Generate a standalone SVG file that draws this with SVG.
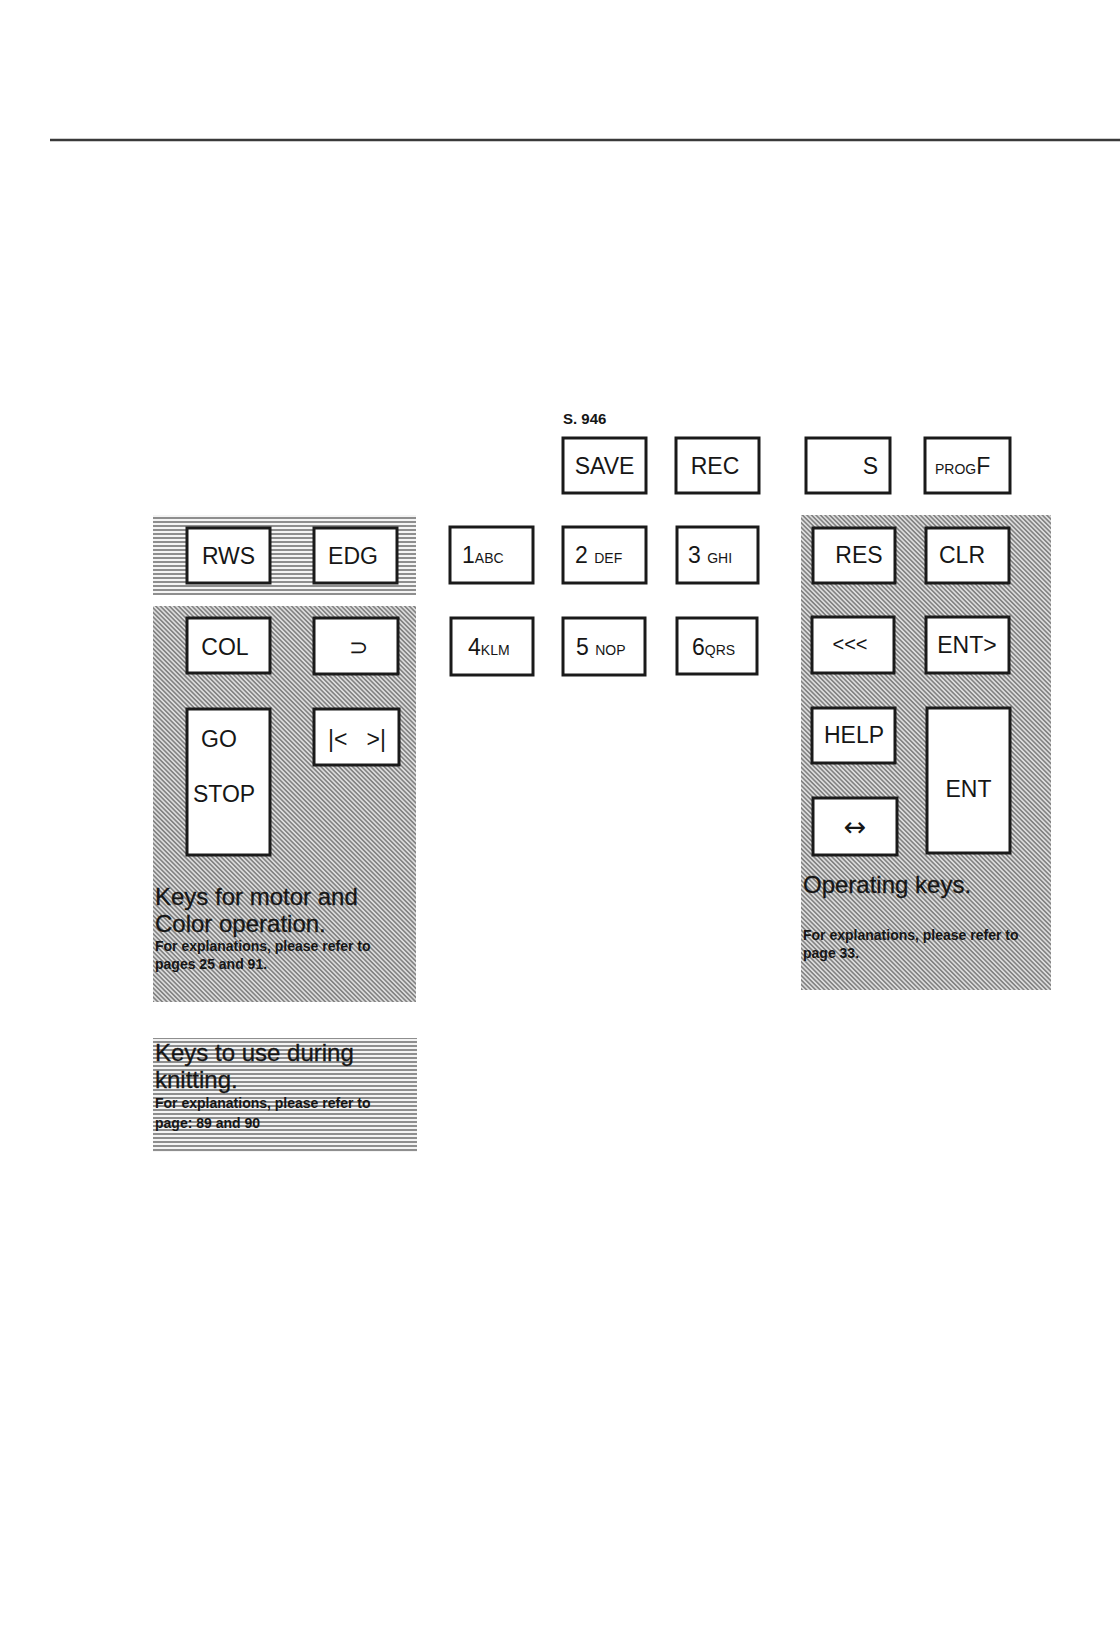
<svg xmlns="http://www.w3.org/2000/svg" width="1120" height="1651" viewBox="0 0 1120 1651">
<defs>
<pattern id="hatchH" patternUnits="userSpaceOnUse" width="8" height="4">
<rect width="8" height="4" fill="#f4f4f4"/>
<line x1="0" y1="2" x2="8" y2="2" stroke="#3a3a3a" stroke-width="1.1"/>
</pattern>
<pattern id="hatchD" patternUnits="userSpaceOnUse" width="8" height="3.2" patternTransform="rotate(45)">
<rect width="8" height="3.2" fill="#dcdcdc"/>
<line x1="0" y1="1.6" x2="8" y2="1.6" stroke="#5a5a5a" stroke-width="1.1"/>
</pattern>
</defs>
<style>
.key{fill:#fff;stroke:#1a1a1a;stroke-width:3}
.lbl{font-family:"Liberation Sans",Arial,sans-serif;font-size:23px;fill:#161616}
.sm{font-size:14px}
.cap{font-family:"Liberation Sans",Arial,sans-serif;font-size:24px;fill:#151515;stroke:#151515;stroke-width:0.3}
.note{font-family:"Liberation Sans",Arial,sans-serif;font-size:14px;font-weight:bold;fill:#151515}
</style>
<rect width="1120" height="1651" fill="#fff"/>
<line x1="50" y1="140" x2="1120" y2="140" stroke="#3a3a3a" stroke-width="2.5"/>
<text x="563" y="424" class="note" style="font-size:15px">S. 946</text>

<g id="panel-knitting-keys">
<rect x="153" y="515" width="263" height="80" fill="url(#hatchH)"/>
</g>
<g id="panel-motor-color">
<rect x="153" y="606" width="263" height="396" fill="url(#hatchD)"/>
<text x="155" y="905" class="cap">Keys for motor and</text>
<text x="155" y="932" class="cap">Color operation.</text>
<text x="155" y="951" class="note">For explanations, please refer to</text>
<text x="155" y="969" class="note">pages 25 and 91.</text>
</g>
<g id="panel-operating">
<rect x="801" y="515" width="250" height="475" fill="url(#hatchD)"/>
<text x="803" y="893" class="cap">Operating keys.</text>
<text x="803" y="940" class="note">For explanations, please refer to</text>
<text x="803" y="958" class="note">page 33.</text>
</g>
<g id="panel-knitting-legend">
<rect x="153" y="1038" width="264" height="114" fill="url(#hatchH)"/>
<text x="155" y="1061" class="cap">Keys to use during</text>
<text x="155" y="1088" class="cap">knitting.</text>
<text x="155" y="1108" class="note">For explanations, please refer to</text>
<text x="155" y="1128" class="note">page: 89 and 90</text>
</g>

<g id="key-save"><rect x="563" y="438" width="83" height="55" class="key"/><text x="604.5" y="474" class="lbl" text-anchor="middle">SAVE</text></g>
<g id="key-rec"><rect x="676" y="438" width="83" height="55" class="key"/><text x="715" y="474" class="lbl" text-anchor="middle">REC</text></g>
<g id="key-s"><rect x="806" y="438" width="84" height="55" class="key"/><text x="878" y="474" class="lbl" text-anchor="end">S</text></g>
<g id="key-progf"><rect x="925" y="438" width="85" height="55" class="key"/><text x="935" y="474" class="lbl"><tspan class="sm">PROG</tspan>F</text></g>

<g id="key-rws"><rect x="187" y="528" width="83" height="55" class="key"/><text x="228.5" y="564" class="lbl" text-anchor="middle">RWS</text></g>
<g id="key-edg"><rect x="314" y="528" width="83" height="55" class="key"/><text x="353" y="564" class="lbl" text-anchor="middle">EDG</text></g>

<g id="key-1abc"><rect x="450" y="527" width="83" height="56" class="key"/><text x="462" y="563" class="lbl">1<tspan class="sm">ABC</tspan></text></g>
<g id="key-2def"><rect x="563" y="527" width="83" height="56" class="key"/><text x="575" y="563" class="lbl">2 <tspan class="sm">DEF</tspan></text></g>
<g id="key-3ghi"><rect x="677" y="527" width="81" height="56" class="key"/><text x="688" y="563" class="lbl">3 <tspan class="sm">GHI</tspan></text></g>
<g id="key-4klm"><rect x="451" y="618" width="82" height="57" class="key"/><text x="468" y="655" class="lbl">4<tspan class="sm">KLM</tspan></text></g>
<g id="key-5nop"><rect x="563" y="618" width="82" height="57" class="key"/><text x="576" y="655" class="lbl">5 <tspan class="sm">NOP</tspan></text></g>
<g id="key-6qrs"><rect x="677" y="618" width="80" height="56" class="key"/><text x="692" y="655" class="lbl">6<tspan class="sm">QRS</tspan></text></g>

<g id="key-col"><rect x="187" y="618" width="83" height="55" class="key"/><text x="225" y="655" class="lbl" text-anchor="middle">COL</text></g>
<g id="key-superset"><rect x="314" y="618" width="84" height="56" class="key"/><text x="358" y="655" class="lbl" text-anchor="middle">⊃</text></g>
<g id="key-gostop"><rect x="187" y="709" width="83" height="146" class="key"/><text x="201" y="747" class="lbl">GO</text><text x="193" y="802" class="lbl">STOP</text></g>
<g id="key-margins"><rect x="314" y="709" width="85" height="56" class="key"/><text x="328" y="747" class="lbl">|&lt;</text><text x="386" y="747" class="lbl" text-anchor="end">&gt;|</text></g>

<g id="key-res"><rect x="813" y="528" width="82" height="55" class="key"/><text x="859" y="563" class="lbl" text-anchor="middle">RES</text></g>
<g id="key-clr"><rect x="926" y="528" width="83" height="55" class="key"/><text x="962" y="563" class="lbl" text-anchor="middle">CLR</text></g>
<g id="key-back"><rect x="812" y="617" width="82" height="56" class="key"/><text x="850" y="651" class="lbl" text-anchor="middle" style="font-size:20px">&lt;&lt;&lt;</text></g>
<g id="key-entnext"><rect x="926" y="617" width="83" height="56" class="key"/><text x="967" y="653" class="lbl" text-anchor="middle">ENT&gt;</text></g>
<g id="key-help"><rect x="812" y="708" width="83" height="55" class="key"/><text x="854" y="743" class="lbl" text-anchor="middle">HELP</text></g>
<g id="key-ent"><rect x="927" y="708" width="83" height="145" class="key"/><text x="968.5" y="797" class="lbl" text-anchor="middle">ENT</text></g>
<g id="key-swap"><rect x="813" y="798" width="84" height="57" class="key"/><text x="855" y="836" class="lbl" text-anchor="middle" style="font-family:'DejaVu Sans',sans-serif;font-size:27px">↔</text></g>

<g id="connectors"></g>
</svg>
